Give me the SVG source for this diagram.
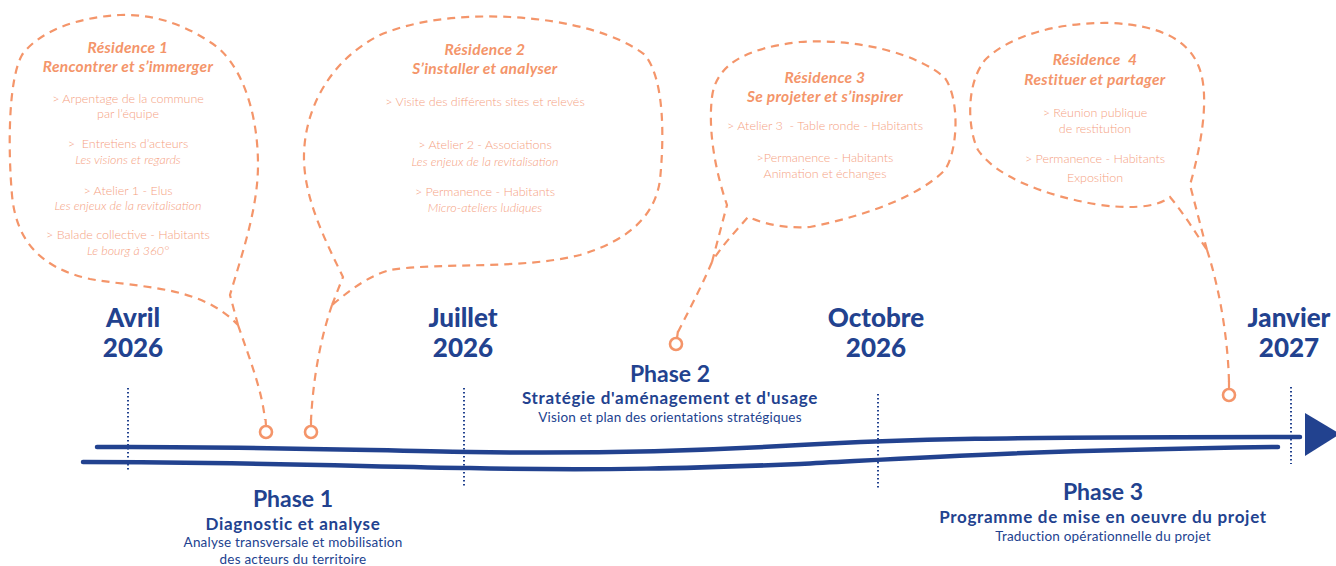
<svg xmlns="http://www.w3.org/2000/svg" width="1336" height="566" viewBox="0 0 1336 566">
<style>
.bub{fill:none;stroke:#F4956A;stroke-width:2.2;stroke-dasharray:8 6;stroke-linecap:butt}
.tail{fill:none;stroke:#F4956A;stroke-width:2.2;stroke-dasharray:8 6}
.pin{fill:#fff;stroke:#F4956A;stroke-width:2.6}
.stem{stroke:#F4956A;stroke-width:2.2}
.tt{font-family:Lato,"Noto Sans",sans-serif;font-weight:700;font-style:italic;font-size:15.5px;letter-spacing:0.3px;fill:#F4956A;text-anchor:middle}
.it{font-family:Lato,"Noto Sans",sans-serif;font-weight:300;font-size:12.5px;fill:#F5A182;text-anchor:middle}
.iti{font-family:Lato,"Noto Sans",sans-serif;font-weight:300;font-style:italic;font-size:12.5px;fill:#F5A182;text-anchor:middle}
.mon{font-family:Lato,"Noto Sans",sans-serif;font-weight:900;font-size:26px;fill:#22428F;text-anchor:middle}
.ph{font-family:Lato,"Noto Sans",sans-serif;font-weight:700;font-size:23px;fill:#22428F;text-anchor:middle}
.ps{font-family:Lato,"Noto Sans",sans-serif;font-weight:700;font-size:17px;letter-spacing:0.7px;fill:#22428F;text-anchor:middle}
.pd{font-family:Lato,"Noto Sans",sans-serif;font-weight:400;font-size:13.5px;letter-spacing:0.2px;fill:#22428F;text-anchor:middle}
.dot{stroke:#22428F;stroke-width:2;stroke-dasharray:1.5 2.5;fill:none}
.tl{fill:none;stroke:#22428F;stroke-width:4.5;stroke-linecap:round}
</style>
<rect width="1336" height="566" fill="#fff"/>

<g id="timeline">
<line class="dot" x1="128" y1="388" x2="128" y2="472"/>
<line class="dot" x1="464" y1="388" x2="464" y2="488"/>
<line class="dot" x1="878" y1="394" x2="878" y2="488"/>
<line class="dot" x1="1291" y1="387" x2="1291" y2="464"/>
<path class="tl" d="M97 447 C 250 446 380 451 470 452 C 600 454 700 451 800 445 C 900 439 1000 437 1300 437"/>
<path class="tl" d="M83 462 C 250 462 380 467 470 468 C 600 471 700 468 800 464 C 900 459 1000 451 1278 447"/>
<polygon points="1305,413 1340,434 1305,456" fill="#22428F"/>
</g>

<g id="months">
<text class="mon" x="133" y="327">Avril</text>
<text class="mon" x="133" y="357">2026</text>
<text class="mon" x="463" y="327">Juillet</text>
<text class="mon" x="463" y="357">2026</text>
<text class="mon" x="876" y="327">Octobre</text>
<text class="mon" x="876" y="357">2026</text>
<text class="mon" x="1289" y="327">Janvier</text>
<text class="mon" x="1289" y="357">2027</text>
</g>

<g id="residence1">
<path class="bub" d="M238 325 L230 295 C240 260 258 210 258 165 C258 110 240 60 210 42 C180 22 150 14 120 15 C80 17 40 30 22 55 C8 80 8 150 12 195 C16 240 40 268 90 279 C140 288 200 285 238 325 Z"/>
<path class="tail" d="M238 325 C250 360 262 390 265 420"/>
<line class="stem" x1="265.5" y1="419" x2="266" y2="426"/>
<circle class="pin" cx="266" cy="432" r="6"/>
<text class="tt" x="128" y="53">Résidence 1</text>
<text class="tt" x="128" y="72">Rencontrer et s’immerger</text>
<text class="it" x="128" y="103">&gt; Arpentage de la commune</text>
<text class="it" x="128" y="118">par l’équipe</text>
<text class="it" x="128" y="148">&gt;&#160; Entretiens d’acteurs</text>
<text class="iti" x="128" y="164">Les visions et regards</text>
<text class="it" x="128" y="195">&gt; Atelier 1 - Elus</text>
<text class="iti" x="128" y="210">Les enjeux de la revitalisation</text>
<text class="it" x="128" y="239">&gt; Balade collective - Habitants</text>
<text class="iti" x="128" y="255">Le bourg à 360°</text>
</g>

<g id="residence2">
<path class="bub" d="M332 305 L343 277 C325 240 305 200 304 160 C303 110 330 60 380 35 C420 18 470 15 510 17 C570 20 620 35 645 55 C665 80 664 140 660 180 C655 215 630 240 580 255 C520 270 440 262 390 270 C370 275 350 290 332 305 Z"/>
<path class="tail" d="M332 305 C320 340 313 380 311 420"/>
<line class="stem" x1="311" y1="419" x2="311" y2="426"/>
<circle class="pin" cx="311" cy="432" r="6"/>
<text class="tt" x="485" y="55">Résidence 2</text>
<text class="tt" x="485" y="74">S’installer et analyser</text>
<text class="it" x="485" y="106">&gt; Visite des différents sites et relevés</text>
<text class="it" x="485" y="149">&gt; Atelier 2 - Associations</text>
<text class="iti" x="485" y="166">Les enjeux de la revitalisation</text>
<text class="it" x="485" y="196">&gt; Permanence - Habitants</text>
<text class="iti" x="485" y="212">Micro-ateliers ludiques</text>
</g>

<g id="residence3">
<path class="bub" d="M712 262 L727 205 C715 170 708 130 712 97 C716 65 745 48 800 42 C860 38 920 55 945 78 C960 100 958 150 945 170 C920 195 870 215 810 227 C780 229 760 222 748 217 C735 232 720 248 712 262 Z"/>
<path class="tail" d="M712 262 C700 290 688 312 678 332"/>
<line class="stem" x1="678" y1="331" x2="677" y2="338"/>
<circle class="pin" cx="676" cy="344" r="6"/>
<text class="tt" x="825" y="83">Résidence 3</text>
<text class="tt" x="825" y="102">Se projeter et s’inspirer</text>
<text class="it" x="825" y="130">&gt; Atelier 3&#160; - Table ronde - Habitants</text>
<text class="it" x="825" y="162">&gt;Permanence - Habitants</text>
<text class="it" x="825" y="178">Animation et échanges</text>
</g>

<g id="residence4">
<path class="bub" d="M1207 250 L1190 185 C1200 150 1210 100 1200 70 C1190 40 1160 25 1110 23 C1060 22 1010 35 985 60 C965 85 968 130 978 150 C995 175 1040 195 1100 205 C1140 210 1160 205 1170 197 C1185 215 1197 235 1207 250 Z"/>
<path class="tail" d="M1207 250 C1220 290 1228 340 1229 382"/>
<line class="stem" x1="1229" y1="381" x2="1229" y2="389"/>
<circle class="pin" cx="1229" cy="395" r="6"/>
<text class="tt" x="1095" y="65">Résidence&#160; 4</text>
<text class="tt" x="1095" y="85">Restituer et partager</text>
<text class="it" x="1095" y="117">&gt; Réunion publique</text>
<text class="it" x="1095" y="133">de restitution</text>
<text class="it" x="1095" y="163">&gt; Permanence - Habitants</text>
<text class="it" x="1095" y="182">Exposition</text>
</g>

<g id="phase1">
<text class="ph" x="293" y="507">Phase 1</text>
<text class="ps" x="293" y="530">Diagnostic et analyse</text>
<text class="pd" x="293" y="547">Analyse transversale et mobilisation</text>
<text class="pd" x="293" y="564">des acteurs du territoire</text>
</g>
<g id="phase2">
<text class="ph" x="670" y="382">Phase 2</text>
<text class="ps" x="670" y="404">Stratégie d'aménagement et d'usage</text>
<text class="pd" x="670" y="422">Vision et plan des orientations stratégiques</text>
</g>
<g id="phase3">
<text class="ph" x="1103" y="500">Phase 3</text>
<text class="ps" x="1103" y="523">Programme de mise en oeuvre du projet</text>
<text class="pd" x="1103" y="541">Traduction opérationnelle du projet</text>
</g>
</svg>
